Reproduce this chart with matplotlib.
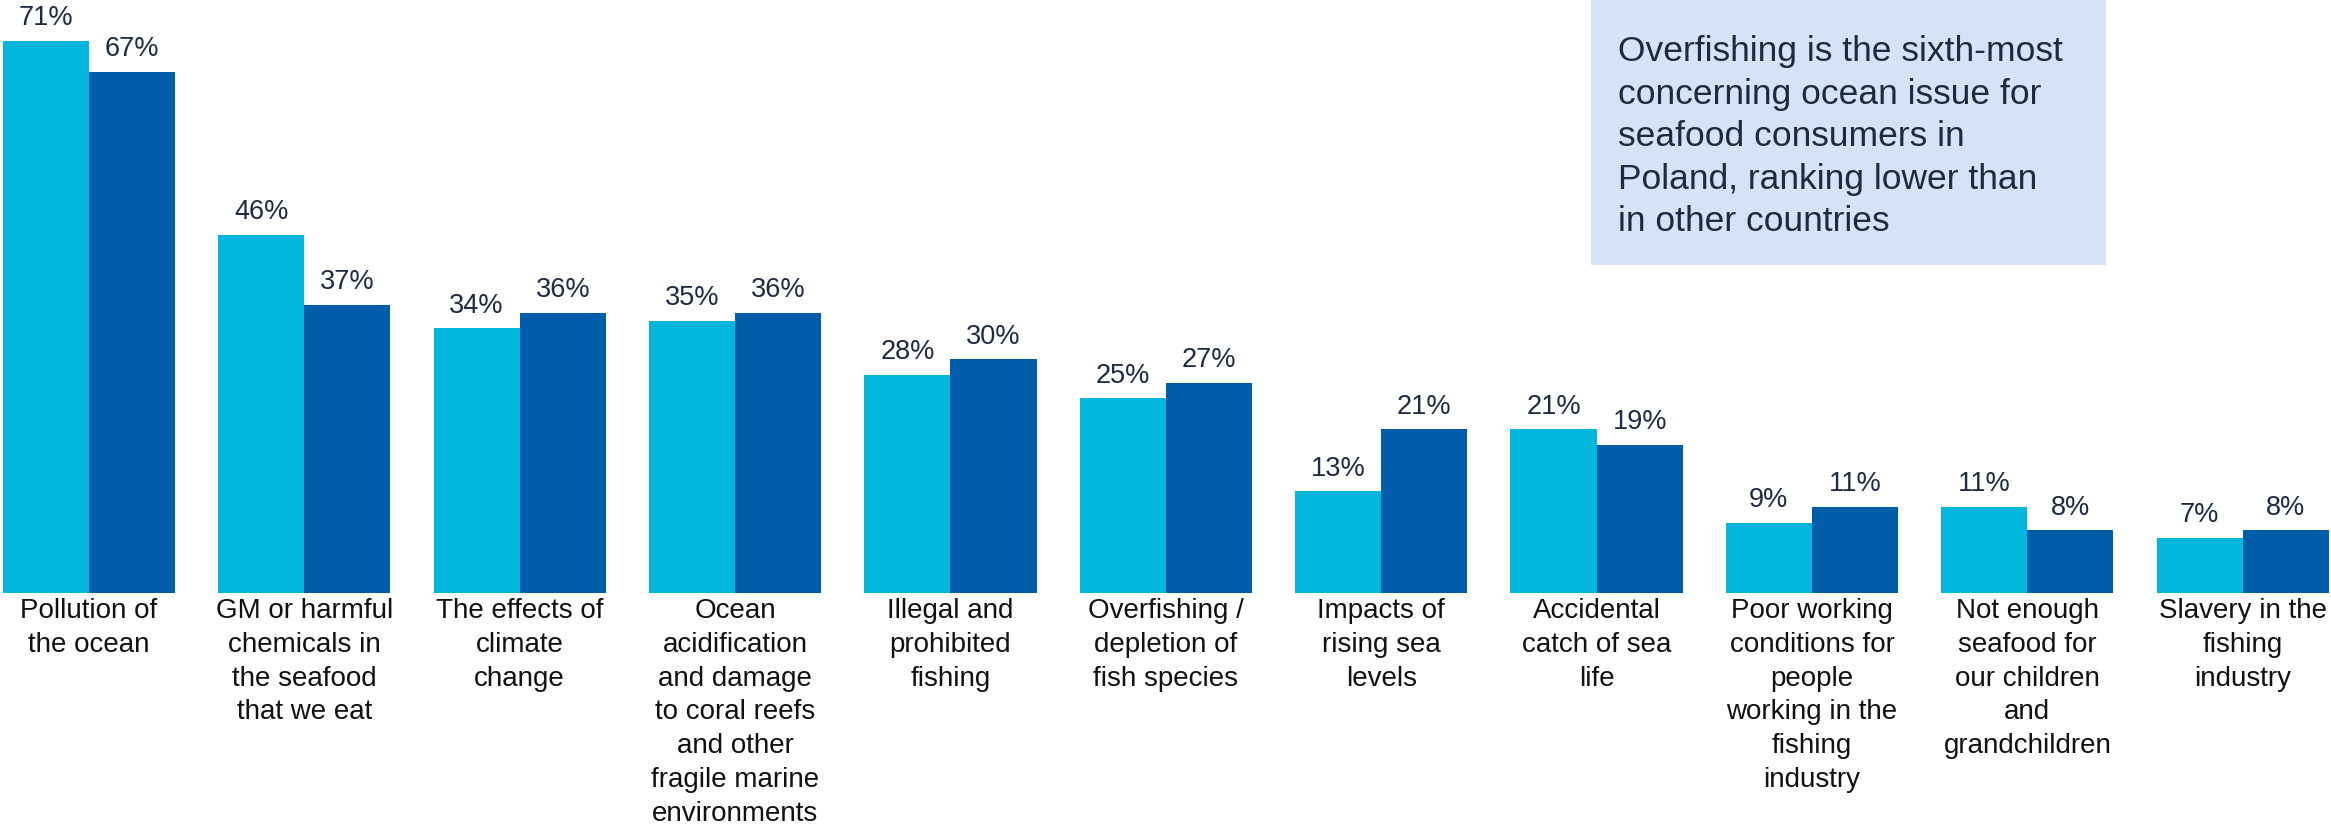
import numpy as np
import matplotlib as mpl
mpl.use("Agg")
import matplotlib.pyplot as plt
from matplotlib.patches import Rectangle

plt.rcParams['font.family'] = ['Liberation Sans', 'DejaVu Sans']

issues = [
    "Pollution of\nthe ocean",
    "GM or harmful\nchemicals in\nthe seafood\nthat we eat",
    "The effects of\nclimate\nchange",
    "Ocean\nacidification\nand damage\nto coral reefs\nand other\nfragile marine\nenvironments",
    "Illegal and\nprohibited\nfishing",
    "Overfishing /\ndepletion of\nfish species",
    "Impacts of\nrising sea\nlevels",
    "Accidental\ncatch of sea\nlife",
    "Poor working\nconditions for\npeople\nworking in the\nfishing\nindustry",
    "Not enough\nseafood for\nour children\nand\ngrandchildren",
    "Slavery in the\nfishing\nindustry",
]
first = [71, 46, 34, 35, 28, 25, 13, 21, 9, 11, 7]
second = [67, 37, 36, 36, 30, 27, 21, 19, 11, 8, 8]

note = ("Overfishing is the sixth-most\nconcerning ocean issue for\n"
        "seafood consumers in\nPoland, ranking lower than\nin other countries")

light = '#00B6DD'
dark = '#005DA9'
label_col = '#1E2A44'

W, H = 2331, 827
fig = plt.figure(figsize=(W / 100, H / 100), dpi=100)
base = 592.5
ax = fig.add_axes([0, 1 - base / H, 1, base / H])

x = np.arange(len(issues))
bw = 0.4
b1 = ax.bar(x - bw / 2, first, bw, color=light, edgecolor='none')
b2 = ax.bar(x + bw / 2, second, bw, color=dark, edgecolor='none')

for bars, vals in ((b1, first), (b2, second)):
    for r, v in zip(bars, vals):
        ax.annotate(f"{v}%", (r.get_x() + r.get_width() / 2, v),
                    xytext=(0, 7), textcoords='offset points',
                    ha='center', va='bottom', fontsize=19.5, color=label_col)

ax.set_xlim(-0.413, 10.41)
ax.set_ylim(0, 76.25)
ax.set_xticks(x)
ax.set_xticklabels(issues, fontsize=20, linespacing=1.39, color='#111111')
ax.tick_params(axis='x', length=0, pad=4)
ax.set_yticks([])
for s in ax.spines.values():
    s.set_visible(False)
ax.patch.set_alpha(0)

# callout box, top right
fig.patches.append(Rectangle((1591 / W, 1 - 265 / H), (2106 - 1591) / W, 265 / H,
                             transform=fig.transFigure, facecolor='#D5E2F7',
                             edgecolor='none', zorder=0))
fig.text(1618 / W, 1 - 35 / H, note, ha='left', va='top', fontsize=25.5,
         linespacing=1.37, color=label_col)

fig.savefig('out.png', dpi=100)
